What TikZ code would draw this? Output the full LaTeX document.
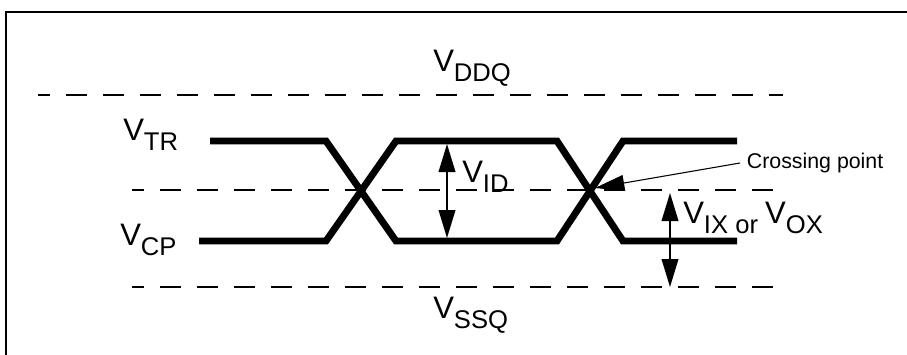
\documentclass[tikz,border=0pt]{standalone}
\usepackage{fontspec}
\setmainfont{Liberation Sans}
\usepackage{tkz-euclide}
\usetikzlibrary{arrows.meta}

\newcommand{\subsz}{\fontsize{19.2}{20}\selectfont}
\newcommand{\volt}[1]{V\raisebox{-7.5pt}{\subsz #1}}

\begin{document}
\begin{tikzpicture}[x=0.75pt,y=-0.75pt,
        level/.style={line width=5.2pt,miter limit=10},
        ref/.style={line width=1.2pt,dash pattern=on 15.75pt off 12pt,dash phase=6.75pt},
        dim/.style={line width=1.3pt,{Triangle[length=21pt,width=12.5pt]}-{Triangle[length=21pt,width=12.5pt]}},
        lbl/.style={font=\fontsize{23.3}{25}\selectfont,inner sep=0pt,anchor=base west}]
        \clip (0,0) rectangle (907,354);
        \draw[line width=1.5pt] (6,12) rectangle (940,390);
        \tkzDefPoint(38,95){D_a}
        \tkzDefPoint(783,95){D_b}
        \tkzDefPoint(132,190){M_a}
        \tkzDefPoint(783,190){M_b}
        \tkzDefPoint(132,287){S_a}
        \tkzDefPoint(783,287){S_b}
        \draw[ref] (D_a) -- (D_b);
        \draw[ref] (M_a) -- (M_b);
        \draw[ref] (S_a) -- (S_b);
        \tkzDefPoint(326,141){T_1}
        \tkzDefPoint(396,141){T_2}
        \tkzDefPoint(557,141){T_3}
        \tkzDefPoint(623,141){T_4}
        \tkzDefPoint(326,241){B_1}
        \tkzDefPoint(396,241){B_2}
        \tkzDefPoint(557,241){B_3}
        \tkzDefPoint(623,241){B_4}
        \draw[level] (210,141) -- (T_1) -- (B_2) -- (B_3) -- (T_4) -- (737,141);
        \draw[level] (199,241) -- (B_1) -- (T_2) -- (T_3) -- (B_4) -- (737,241);
        \draw[dim] (447,144) -- (447,238);
        \draw[dim] (670,193) -- (670,287);
        \node[lbl] (vddq) at (433,71) {\volt{DDQ}};
        \node[lbl] (vtr) at (123,140) {\volt{TR}};
        \node[lbl] (vcp) at (120,245) {\volt{CP}};
        \node[lbl] (vssq) at (433,318) {\volt{SSQ}};
        \node[lbl] (vid) at (462,182) {\volt{ID}};
        \node[lbl] (vix) at (683,223) {\volt{IX}\raisebox{-7.5pt}{\subsz\ or }\volt{OX}};
        \node[font=\fontsize{16}{17}\selectfont,inner sep=5pt,anchor=west] (cross) at (740,163) {Crossing point};
        \tkzDefPoint(595,188){X}
        \draw[line width=0.8pt,-{Triangle[length=22pt,width=12pt]}] (cross.west) -- (X);
\end{tikzpicture}
\end{document}
